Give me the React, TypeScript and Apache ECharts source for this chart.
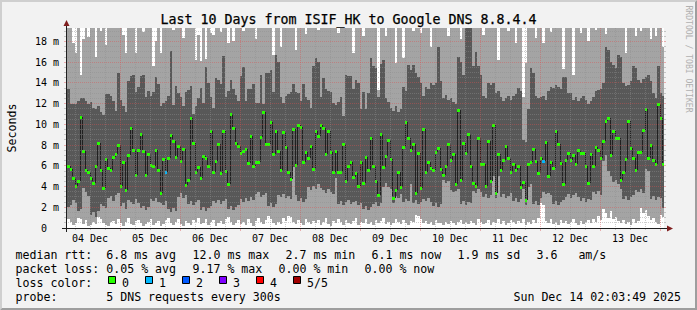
import React, { useEffect, useRef } from 'react';
import * as echarts from 'echarts';

// ---------- texts ----------
const TITLE = 'Last 10 Days from ISIF_HK to Google DNS 8.8.4.4';
const Y_TITLE = 'Seconds';
const WATERMARK = 'RRDTOOL / TOBI OETIKER';
const STATS_RTT = ['median rtt:  6.8 ms avg', '12.0 ms max', '2.7 ms min', '6.1 ms now', '1.9 ms sd', '3.6   am/s'];
const STATS_LOSS = ['packet loss: 0.05 % avg', '9.17 % max', '0.00 % min', '0.00 % now'];
const LOSS_TITLE = 'loss color:';
const LOSS_LEGEND = ['0', '1', '2', '3', '4', '5/5'];
const PROBE = 'probe:       5 DNS requests every 300s';
const STAMP = 'Sun Dec 14 02:03:49 2025';

// ---------- axes (x in hours since 04 Dec 00:00, y in ms) ----------
const X_MIN = 2.4;
const X_MAX = 241.6;
const FIRST_STEP_END = 3.8;
const STEP_HOURS = 1;
const Y_MAX = 19.3;
const Y_STEP = 2;
const Y_MINOR = 0.5;
const X_MINOR = 6;
const DAY_LABELS = ['04 Dec', '05 Dec', '06 Dec', '07 Dec', '08 Dec', '09 Dec', '10 Dec', '11 Dec', '12 Dec', '13 Dec'];
const DAY_LABEL_HOURS = [12, 36, 60, 84, 108, 132, 156, 180, 204, 228];
const MIDNIGHT_HOURS = [24, 48, 72, 96, 120, 144, 168, 192, 216, 240];

// ---------- data: one value per hourly step ----------
const MEDIAN = [
  5.94, 5.69, 4.82, 4.02, 4.53, 10.75, 7.45, 5.62, 5.37, 4.79, 4.37, 5.94, 8.16, 5.62, 3.83, 6.68, 5.75, 5.62, 6.87, 7.10,
  8.00, 4.09, 6.39, 3.70, 7.07, 9.66, 7.55, 5.08, 7.52, 9.08, 7.42, 5.14, 7.10, 6.07, 5.94, 7.48, 5.62, 3.35, 6.68,
  5.37, 6.78, 8.96, 8.38, 6.81, 7.87, 6.46, 7.61, 4.15, 4.66, 10.62, 8.16, 5.37, 5.91, 4.82, 6.91, 6.78, 5.94, 9.37, 5.37,
  6.46, 8.06, 5.27, 9.34, 5.53, 4.25, 11.01, 9.69, 8.25, 7.93, 7.23, 7.42, 7.61, 6.30, 8.83, 5.94, 6.39, 6.39, 8.76, 11.20,
  8.06, 8.12, 10.21, 7.10, 9.37, 7.45, 5.62, 9.25, 7.77, 5.37, 4.73, 9.60, 6.04, 9.95, 9.79, 6.33, 7.35, 6.78, 7.93, 5.69,
  9.34, 8.83, 9.92, 9.66, 7.10, 9.37, 7.35, 5.37, 7.42, 5.37, 5.37, 8.12, 4.57, 6.01, 6.33, 4.89, 5.27, 4.02, 6.36, 4.31,
  6.84, 5.56, 8.70, 5.98, 4.57, 3.19, 9.05, 5.85, 6.91, 8.48, 6.68, 2.90, 3.70, 5.37, 3.99, 7.80, 10.24, 8.70, 7.55, 8.12,
  3.35, 7.23, 3.89, 9.53, 5.43, 6.36, 5.75, 5.62, 7.35, 7.68, 5.69, 5.14, 5.94, 8.12, 6.55, 7.16, 4.25, 11.39, 4.66, 8.19,
  7.19, 9.05, 6.01, 4.34, 4.02, 8.70, 6.14, 6.14, 4.09, 8.38, 4.50, 9.95, 3.35, 7.13, 5.59, 6.55, 7.87, 6.78, 5.37, 6.20,
  5.56, 5.94, 3.99, 4.41, 2.71, 6.20, 6.39, 7.61, 6.49, 5.27, 6.71, 6.46, 8.28, 5.02, 6.39, 5.82, 9.34, 8.06, 6.23, 4.22,
  6.55, 7.23, 6.52, 7.03, 6.14, 7.55, 7.23, 7.23, 6.01, 4.34, 7.16, 6.01, 7.77, 7.52, 6.78, 8.38, 10.37, 10.62, 7.03, 9.34,
  8.70, 8.70, 4.63, 5.37, 6.65, 10.37, 7.74, 6.78, 5.62, 7.35, 7.35, 9.41, 11.46, 6.71, 8.03, 6.59, 6.14, 11.97, 10.62, 6.14,
];
// lowest ping of each step
const PING_MIN = [
  0.9, 0.6, 0.3, 0.5, 1.0, 0.9, 0.4, 0.8, 0.2, 0.3, 0.6,
  0.4, 1.1, 0.9, 0.5, 0.3, 0.2, 0.6, 0.7, 0.4, 0.9,
  0.5, 0.2, 0.6, 1.0, 0.4, 0.3, 0.7, 0.8, 0.5, 0.2,
  0.4, 0.6, 0.9, 0.3, 0.5, 0.7, 0.2, 0.4,
  0.8, 1.0, 0.5, 0.3, 0.6, 0.9, 0.4, 0.2, 0.7, 0.5,
  0.3, 0.8, 0.6, 1.0, 0.4, 0.5, 0.9, 0.3, 0.6, 0.8,
  0.2, 0.5, 0.7, 0.4, 0.9, 1.1, 0.6, 0.3, 0.5, 0.8,
  0.4, 0.6, 0.3, 0.9, 0.5, 0.2, 0.7, 1.0, 0.6, 0.4,
  0.8, 1.2, 0.9, 0.5, 0.3, 0.6, 0.4, 1.0, 0.7, 1.2,
  1.1, 0.6, 0.4, 0.8, 0.5, 0.3, 0.9, 0.6, 0.4, 0.7,
  0.5, 0.8, 0.3, 0.6, 1.0, 0.4, 0.2, 0.7, 0.5, 0.9,
  0.6, 0.3, 0.8, 0.5, 0.4, 0.7, 1.0, 0.3, 0.6, 0.5,
  0.9, 0.4, 0.6, 0.3, 0.8, 0.5, 0.7, 1.0, 0.4, 0.6,
  0.3, 0.5, 0.9, 0.6, 0.4, 0.8, 0.5, 0.3, 0.7, 0.6,
  1.3, 1.2, 0.9, 0.5, 0.7, 0.4, 0.6, 0.3, 0.8, 0.5,
  0.5, 0.3, 0.6, 0.4, 0.7, 0.5, 0.3, 0.6, 0.8, 0.4,
  0.6, 0.4, 0.7, 0.5, 0.3, 0.9, 0.6, 0.4, 0.5, 0.8,
  0.3, 0.6, 0.5, 0.9, 0.4, 0.7, 0.3, 0.5, 0.8, 0.6,
  0.4, 0.7, 0.5, 0.9, 0.3, 0.6, 0.4, 0.8, 0.5, 1.0,
  2.4, 2.2, 0.7, 0.5, 0.9, 0.4, 0.6, 0.3, 0.8, 0.5,
  0.7, 0.4, 0.6, 0.9, 0.5, 0.3, 0.7, 0.4, 0.6, 0.8,
  0.5, 0.9, 0.6, 1.2, 0.8, 1.8, 1.4, 1.0, 1.6, 0.9,
  1.1, 0.7, 0.5, 0.8, 0.4, 0.6, 0.3, 0.9, 0.5, 0.7,
  1.9, 1.4, 1.7, 1.2, 0.8, 1.0, 0.6, 0.4, 1.3, 1.1,
];
// second ping of each step
const PING_LOW = [
  2.0, 2.2, 2.7, 2.4, 1.6, 1.8, 3.9, 3.5, 3.1, 1.3,
  1.5, 1.1, 1.6, 2.3, 2.1, 1.9, 2.9, 3.1, 2.6, 3.2,
  3.4, 2.1, 2.4, 1.8, 2.7, 2.5, 2.3, 2.8, 2.4, 1.9,
  2.1, 1.7, 2.0, 2.8, 2.6, 2.9, 2.5, 2.4, 2.2,
  2.6, 1.8, 1.5, 1.9, 1.6, 3.0, 3.4, 2.9, 3.2, 2.3,
  2.6, 2.2, 2.5, 2.7, 1.7, 2.0, 1.6, 1.9, 2.1, 2.6,
  2.4, 2.7, 2.3, 2.6, 2.8, 1.8, 2.1, 1.7, 2.0, 2.2,
  2.8, 2.5, 2.9, 2.6, 3.0, 2.7, 3.3, 3.5, 3.0, 3.2,
  3.4, 2.1, 2.4, 2.0, 2.3, 3.2, 3.0, 3.3, 2.9, 3.1,
  2.8, 5.9, 3.2, 2.6, 2.9, 2.5, 2.8, 4.0, 3.7, 4.1,
  3.8, 4.2, 3.9, 3.7, 3.4, 3.8, 3.5, 3.3, 4.8, 2.3,
  2.6, 2.2, 2.5, 2.7, 2.3, 2.5, 2.6, 2.2, 2.4, 1.8,
  2.1, 1.7, 2.0, 2.3, 2.5, 2.1, 2.4, 4.0, 4.3, 4.0,
  3.8, 2.4, 3.1, 2.9, 3.3, 2.5, 2.8, 2.6, 4.2, 2.4,
  2.7, 2.3, 2.5, 2.8, 2.6, 2.9, 2.5, 2.1, 2.4, 2.0,
  2.3, 4.6, 4.3, 4.5, 3.7, 3.5, 3.6, 3.8, 2.3, 2.6,
  2.2, 2.5, 2.4, 3.6, 3.4, 3.8, 3.5, 3.0, 3.3, 2.9,
  3.2, 5.0, 2.9, 5.0, 3.0, 3.3, 2.9, 3.1, 3.4, 2.6,
  2.9, 2.5, 2.8, 3.8, 2.2, 4.0, 4.2, 2.3, 2.6, 2.2,
  2.9, 3.5, 3.3, 3.4, 3.2, 2.3, 2.6, 2.2, 2.5, 2.7,
  3.0, 3.3, 2.9, 3.2, 3.4, 3.0, 2.6, 2.9, 2.5, 2.8,
  2.7, 3.5, 3.3, 3.6, 3.2, 6.5, 7.0, 5.5, 5.0, 4.4,
  4.6, 4.2, 3.8, 2.8, 3.1, 2.7, 3.0, 3.2, 3.7, 3.5,
  3.8, 3.4, 5.7, 5.5, 2.8, 3.1, 2.7, 3.0, 2.9, 1.9,
];
// fourth ping of each step
const PING_HIGH = [
  13.4, 12.0, 12.0, 12.0, 12.3, 12.5, 12.5, 12.3, 12.0, 12.2, 11.6, 11.5, 11.8, 11.2, 10.9, 12.9, 12.9, 12.7, 12.3, 11.3,
  15.0, 12.4, 11.8, 11.2, 14.2, 14.7, 14.8, 13.1, 13.6, 14.7, 14.8, 12.6, 13.2, 12.7, 13.1, 14.6, 13.9, 11.8, 12.1,
  12.3, 12.7, 17.1, 11.9, 13.7, 13.0, 12.6, 11.8, 13.1, 13.3, 13.7, 11.0, 11.8, 12.5, 13.5, 12.1, 15.5, 14.0, 12.6, 11.6,
  14.5, 14.3, 13.9, 16.6, 12.6, 13.2, 14.3, 13.4, 12.8, 12.3, 14.7, 15.5, 12.3, 13.4, 13.4, 13.9, 12.1, 12.1, 14.8, 12.0,
  15.0, 15.0, 15.2, 13.1, 16.7, 16.0, 12.6, 12.1, 12.7, 12.9, 13.1, 13.9, 13.1, 13.0, 12.3, 13.9, 12.6, 12.4, 11.6, 15.6,
  16.4, 16.0, 12.6, 14.5, 13.4, 13.2, 13.1, 12.1, 11.9, 12.2, 12.6, 10.8, 14.8, 14.7, 14.7, 13.4, 14.3, 14.0, 11.5, 13.1,
  11.5, 13.0, 16.4, 15.6, 15.4, 12.6, 15.8, 16.2, 12.5, 12.2, 11.6, 11.3, 11.8, 11.2, 11.5, 13.6, 13.2, 15.7, 15.2, 15.7,
  15.0, 14.6, 14.0, 12.7, 13.6, 13.4, 14.0, 13.8, 14.0, 17.5, 14.2, 12.5, 12.8, 12.4, 12.5, 12.2, 12.0, 16.5, 16.0, 14.8,
  19.5, 20.5, 19.6, 15.6, 17.0, 15.6, 14.8, 12.7, 12.5, 14.0, 13.8, 14.0, 13.0, 13.2, 12.6, 12.3, 12.5, 12.7, 12.4, 12.7,
  12.9, 13.5, 13.2, 8.5, 8.3, 11.5, 15.4, 15.0, 12.7, 12.5, 12.6, 12.7, 12.4, 13.2, 13.6, 13.5, 13.8, 13.6, 13.4, 14.6,
  14.6, 13.0, 13.0, 12.4, 12.6, 12.3, 12.5, 12.7, 12.4, 12.0, 12.3, 12.6, 13.2, 13.3, 13.4, 14.0, 17.5, 17.2, 16.0, 15.7,
  15.4, 16.7, 16.5, 14.0, 13.7, 13.8, 14.2, 15.6, 15.4, 14.3, 14.0, 14.4, 14.6, 14.8, 14.2, 13.0, 12.5, 15.6, 13.0, 12.7,
];
// highest ping of each step (21 = above the top of the graph)
const PING_MAX = [
  21, 21, 17.9, 16.9, 21, 14.8, 18.2, 21, 18.4, 21,
  21, 16.5, 21, 19.0, 21, 17.7, 21, 21, 21, 21,
  21, 21, 18.6, 16.9, 21, 21, 21, 16.9, 21, 21,
  18.9, 21, 21, 21, 15.6, 18.0, 21, 16.9, 21,
  21, 21, 21, 19.1, 21, 21, 21, 18.3, 21, 21,
  21, 21, 16.2, 18.6, 16.1, 21, 16.3, 21, 18.8, 18.6,
  21, 21, 18.9, 21, 21, 17.9, 21, 18.0, 21, 21,
  21, 19.0, 21, 21, 21, 21, 18.2, 21, 21, 21,
  21, 21, 21, 16.7, 21, 21, 17.5, 21, 21, 21,
  21, 21, 17.2, 21, 21, 21, 18.7, 21, 21, 21,
  21, 19.1, 21, 21, 21, 21, 21, 21, 21, 18.8,
  21, 21, 21, 21, 21, 16.9, 21, 21, 21, 18.5,
  21, 21, 21, 21, 21, 13.3, 21, 21, 18.5, 21,
  21, 21, 15.9, 21, 21, 16.4, 21, 21, 21, 19.0,
  21, 21, 18.8, 21, 21, 21, 17.5, 21, 21, 21,
  21, 21, 21, 18.5, 21, 21, 21, 21, 18.2, 21,
  21, 21, 21, 21, 21, 21, 21, 18.6, 21, 21,
  21, 21, 21, 16.2, 21, 21, 21, 19.0, 21, 21,
  17.9, 21, 21, 12.6, 15.9, 21, 21, 21, 18.3, 21,
  21, 17.9, 21, 21, 18.9, 21, 21, 21, 21, 15.3,
  21, 21, 21, 14.8, 21, 21, 18.8, 21, 21, 18.0,
  21, 21, 19.1, 21, 21, 21, 18.7, 21, 21, 21,
  21, 21, 21, 21, 16.9, 21, 21, 21, 18.5, 21,
  19.0, 21, 21, 21, 18.2, 21, 18.5, 21, 21, 17.5,
];
// steps with lost pings
const LOSS_STEPS = [39, 190];
const LOSS_COUNTS = [1, 1];

// ---------- styles ----------
const MONO = '"DejaVu Sans Mono", monospace';
const COLORS = {
  back: '#f2f2f2', canvas: '#ffffff', shadeA: '#cfcfcf', shadeB: '#9e9e9e',
  smokeLight: '#a4a4a4', smokeDark: '#585858', medianLine: '#202020',
  grid: 'rgba(143,143,143,0.45)', mgrid: 'rgba(222,79,79,0.42)',
  axis: '#1f1f1f', arrow: '#801f1f', font: '#000000', watermark: '#b0b0b0',
};
const LOSS_COLORS = ['#26ff00', '#00b8ff', '#0059ff', '#7e00ff', '#ff0000', '#a10000'];

const W = 697;
const H = 310;

const font = (px: number) => `${px}px ${MONO}`;
const txt = (text: string, x: number, y: number, opts: any = {}) => ({
  type: 'text', x, y, silent: true, rotation: opts.rotation || 0,
  style: {
    text, font: font(opts.size || 11.6), fill: opts.color || COLORS.font,
    textAlign: opts.align || 'left', textVerticalAlign: 'middle',
  },
});

function buildOption() {
  const lossAt = MEDIAN.map(() => 0);
  LOSS_STEPS.forEach((s, k) => { lossAt[s] = LOSS_COUNTS[k]; });

  const smokeData = MEDIAN.map((m, i) => [
    FIRST_STEP_END + i * STEP_HOURS, PING_MIN[i], PING_LOW[i], m, PING_HIGH[i], PING_MAX[i],
  ]);
  const medianData = MEDIAN.map((m, i) => [
    FIRST_STEP_END + i * STEP_HOURS, m, i > 0 ? MEDIAN[i - 1] : m, lossAt[i],
  ]);

  const stepX = (api: any, h: number) => {
    const x0 = Math.round(api.coord([Math.max(h - STEP_HOURS, X_MIN), 0])[0]);
    const x1 = Math.round(api.coord([Math.min(h, X_MAX), 0])[0]);
    return [x0, x1];
  };
  const yPix = (api: any, v: number) => Math.round(api.coord([X_MIN, Math.min(v, Y_MAX)])[1]);

  const smokeItem = (params: any, api: any) => {
    const h = api.value(0);
    const [x0, x1] = stepX(api, h);
    const band = (lo: number, hi: number, fill: string) => {
      const yl = yPix(api, lo);
      const yh = yPix(api, hi);
      return { type: 'rect', shape: { x: x0, y: yh, width: x1 - x0, height: yl - yh }, style: { fill } };
    };
    return {
      type: 'group',
      children: [
        band(api.value(1), api.value(5), COLORS.smokeLight),
        band(api.value(2), api.value(4), COLORS.smokeDark),
      ],
    };
  };

  const medianItem = (params: any, api: any) => {
    const h = api.value(0);
    const [x0, x1] = stepX(api, h);
    const ym = yPix(api, api.value(1));
    const yp = yPix(api, api.value(2));
    const children: any[] = [];
    if (params.dataIndex > 0) {
      children.push({
        type: 'line', shape: { x1: x0 + 0.5, y1: yp, x2: x0 + 0.5, y2: ym },
        style: { stroke: COLORS.medianLine, lineWidth: 1 },
      });
    }
    children.push({
      type: 'rect', shape: { x: x0, y: ym - 1, width: x1 - x0, height: 3 },
      style: { fill: LOSS_COLORS[api.value(3)] },
    });
    return { type: 'group', children };
  };

  const gridItem = (params: any, api: any) => {
    const [l, b] = api.coord([X_MIN, 0]);
    const [r, t] = api.coord([X_MAX, Y_MAX]);
    const L = Math.round(l), R = Math.round(r), B = Math.round(b), T = Math.round(t);
    const ch: any[] = [];
    const dash = (x1: number, y1: number, x2: number, y2: number, stroke: string) =>
      ch.push({ type: 'line', shape: { x1, y1, x2, y2 }, style: { stroke, lineWidth: 1, lineDash: [1, 1] } });
    const solid = (x1: number, y1: number, x2: number, y2: number, stroke: string) =>
      ch.push({ type: 'line', shape: { x1, y1, x2, y2 }, style: { stroke, lineWidth: 1 } });
    // horizontal minor + major
    for (let v = Y_MINOR; v < Y_MAX; v += Y_MINOR) {
      const major = Math.abs(v / Y_STEP - Math.round(v / Y_STEP)) < 1e-9;
      const y = Math.floor(api.coord([X_MIN, v])[1]) + 0.5;
      const c = major ? COLORS.mgrid : COLORS.grid;
      solid(L - 2, y, L, y, c);
      dash(L, y, R, y, c);
      solid(R, y, R + 2, y, c);
    }
    // vertical minor
    for (let hh = X_MINOR; hh < X_MAX; hh += X_MINOR) {
      if (hh < X_MIN || hh % 24 === 0) continue;
      const x = Math.round(api.coord([hh, 0])[0]) + 0.5;
      dash(x, T, x, B, COLORS.grid);
      solid(x, B, x, B + 2, COLORS.grid);
    }
    // vertical major
    MIDNIGHT_HOURS.forEach((hh) => {
      const x = Math.round(api.coord([hh, 0])[0]) + 0.5;
      dash(x, T, x, B, COLORS.mgrid);
      solid(x, B, x, B + 3, COLORS.mgrid);
    });
    // axes
    solid(L - 4, B + 0.5, R + 4, B + 0.5, COLORS.axis);
    solid(L + 0.5, B + 4, L + 0.5, T - 3, COLORS.axis);
    ch.push({ type: 'polygon', shape: { points: [[R + 3, B - 2.5], [R + 3, B + 3.5], [R + 9, B + 0.5]] }, style: { fill: COLORS.arrow } });
    ch.push({ type: 'polygon', shape: { points: [[L - 2.5, T - 2], [L + 3.5, T - 2], [L + 0.5, T - 8]] }, style: { fill: COLORS.arrow } });
    return { type: 'group', children: ch };
  };

  // legend / text layout
  const rttX = [15.5, 192.5, 285.5, 371.5, 457.5, 536.5];
  const lossX = [15.5, 192.5, 278.5, 364.5];
  const boxX = [108, 145, 182, 219, 256, 293];
  const lineY = [254.5, 268.5, 282.5, 296.5];

  const graphic: any[] = [
    { type: 'polygon', silent: true, shape: { points: [[0, H], [2, H - 2], [2, 2], [W - 2, 2], [W, 0], [0, 0]] }, style: { fill: COLORS.shadeA } },
    { type: 'polygon', silent: true, shape: { points: [[2, H - 2], [W - 2, H - 2], [W - 2, 2], [W, 0], [W, H], [0, H]] }, style: { fill: COLORS.shadeB } },
    txt(Y_TITLE, 11.6, 128, { rotation: Math.PI / 2, align: 'center' }),
    txt(WATERMARK, 688.5, 59, { rotation: -Math.PI / 2, align: 'center', size: 8.1, color: COLORS.watermark }),
  ];
  STATS_RTT.forEach((s, k) => graphic.push(txt(s, rttX[k], lineY[0])));
  STATS_LOSS.forEach((s, k) => graphic.push(txt(s, lossX[k], lineY[1])));
  graphic.push(txt(LOSS_TITLE, 15.5, lineY[2]));
  LOSS_LEGEND.forEach((s, k) => {
    graphic.push({
      type: 'rect', silent: true, shape: { x: boxX[k] + 0.5, y: 276.5, width: 7, height: 7 },
      style: { fill: LOSS_COLORS[k], stroke: '#000', lineWidth: 1 },
    });
    graphic.push(txt(s, boxX[k] + 14, lineY[2]));
  });
  graphic.push(txt(PROBE, 15.5, lineY[3]));
  graphic.push(txt(STAMP, 681, lineY[3], { align: 'right' }));

  return {
    animation: false,
    backgroundColor: COLORS.back,
    title: {
      text: TITLE, left: 'center', top: 12.8, padding: 0,
      textStyle: {
        fontFamily: MONO, fontSize: 13.3, fontWeight: 'normal', color: COLORS.font, lineHeight: 14,
        textBorderColor: COLORS.font, textBorderWidth: 0.25,
      },
    },
    grid: {
      left: 66, top: 28, width: 598, height: 200, show: true,
      backgroundColor: COLORS.canvas, borderWidth: 0, containLabel: false, outerBoundsMode: 'none',
    },
    xAxis: {
      type: 'value', min: X_MIN, max: X_MAX,
      axisLine: { show: false }, axisTick: { show: false }, splitLine: { show: false },
      axisLabel: {
        customValues: DAY_LABEL_HOURS,
        formatter: (v: number) => {
          const k = DAY_LABEL_HOURS.indexOf(Math.round(v));
          return k >= 0 && Math.abs(v - DAY_LABEL_HOURS[k]) < 1e-6 ? DAY_LABELS[k] : '';
        },
        fontFamily: MONO, fontSize: 10, color: COLORS.font, margin: 5,
      },
    },
    yAxis: {
      type: 'value', min: 0, max: Y_MAX, interval: Y_STEP,
      axisLine: { show: false }, axisTick: { show: false }, splitLine: { show: false },
      axisLabel: {
        formatter: (v: number) => (v === 0 ? '0\u00a0\u00a0' : (Math.abs(v % Y_STEP) < 1e-9 ? `${v} m` : '')),
        fontFamily: MONO, fontSize: 10, color: COLORS.font, margin: 7,
      },
    },
    series: [
      { type: 'custom', name: 'smoke', coordinateSystem: 'cartesian2d', renderItem: smokeItem, data: smokeData, z: 1, silent: true },
      { type: 'custom', name: 'median rtt', coordinateSystem: 'cartesian2d', renderItem: medianItem, data: medianData, z: 2, silent: true },
      { type: 'custom', name: 'grid', coordinateSystem: 'cartesian2d', renderItem: gridItem, data: [[X_MIN, 0]], z: 3, silent: true },
    ],
    graphic,
  };
}

export default function App() {
  const ref = useRef<HTMLDivElement>(null);
  useEffect(() => {
    if (!ref.current) return;
    const chart = echarts.init(ref.current, null, { renderer: 'svg', width: W, height: H });
    chart.setOption(buildOption() as any);
    return () => chart.dispose();
  }, []);
  return <div ref={ref} style={{ position: 'fixed', left: 0, top: 0, width: W, height: H }} />;
}
